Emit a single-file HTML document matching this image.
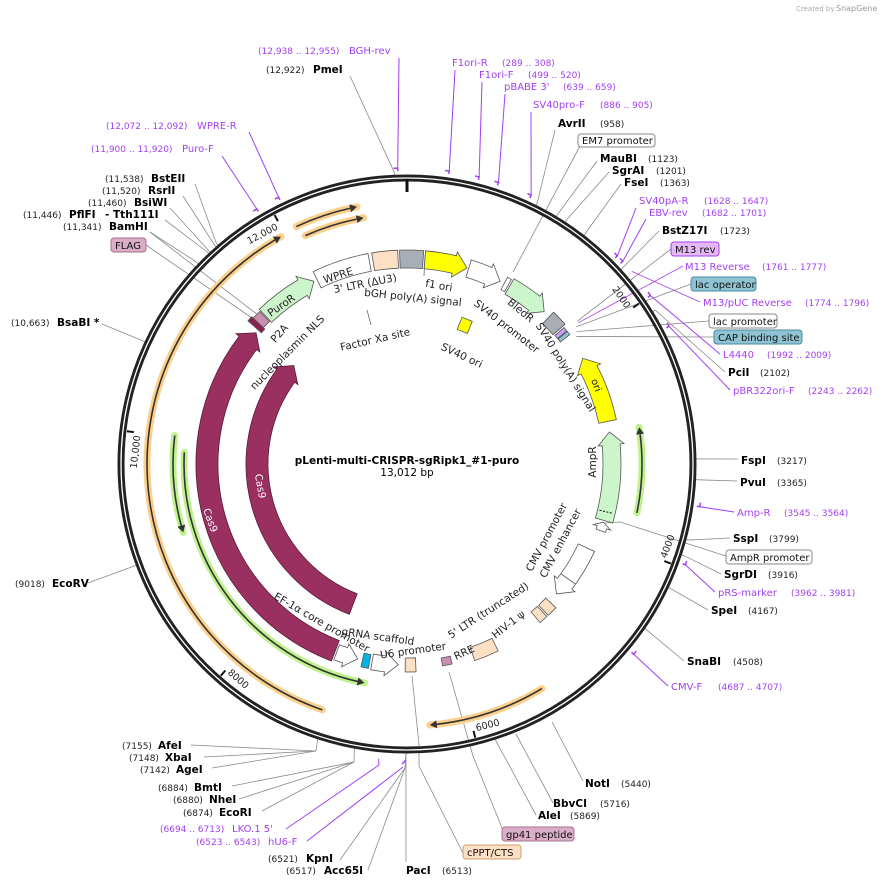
<!DOCTYPE html>
<html><head><meta charset="utf-8"><style>
html,body{margin:0;padding:0;background:#fff;}
svg{display:block;font-family:"DejaVu Sans","Liberation Sans",sans-serif;}
.e{font-weight:bold;font-size:10.5px;fill:#000}
.n{font-size:9px;fill:#222}
.p{font-size:10px;fill:#a23ff0}
.pn{font-size:9px;fill:#a23ff0}
.f{font-size:10.5px;fill:#222}
.bx{font-size:10px;fill:#111}
.t{font-size:9.5px;fill:#222}
</style></head><body>
<svg id="s" width="894" height="887" viewBox="0 0 894 887" xmlns="http://www.w3.org/2000/svg">
<rect width="894" height="887" fill="#fff"/>
<g id="shapes"></g>
<text x="796" y="11" font-size="7" fill="#aaa">Created by</text><text x="836" y="11" font-size="8" fill="#999">SnapGene</text>

<text x="407" y="464" text-anchor="middle" font-weight="bold" font-size="10.5" fill="#000">pLenti-multi-CRISPR-sgRipk1_#1-puro</text>
<text x="407" y="476" text-anchor="middle" font-size="10.5" fill="#000">13,012 bp</text>

<text class="t" x="404" y="196" text-anchor="end" transform="rotate(332 407 464)">12,000</text>
<text class="t" x="404" y="196" text-anchor="end" transform="rotate(55.3 407 464)">2000</text>
<text class="t" x="404" y="196" text-anchor="end" transform="rotate(276.7 407 464)">10,000</text>
<text class="t" x="410" y="740" text-anchor="start" transform="rotate(-69.3 407 464)">4000</text>
<text class="t" x="410" y="740" text-anchor="start" transform="rotate(-14 407 464)">6000</text>
<text class="t" x="410" y="740" text-anchor="start" transform="rotate(41.3 407 464)">8000</text>

<text class="pn" x="258" y="54">(12,938 .. 12,955)</text><text class="p" x="349" y="54">BGH-rev</text>
<text class="n" x="266" y="73">(12,922)</text><text class="e" x="313" y="73">PmeI</text>
<text class="p" x="452" y="66">F1ori-R</text><text class="pn" x="502" y="66">(289 .. 308)</text>
<text class="p" x="479" y="78">F1ori-F</text><text class="pn" x="528" y="78">(499 .. 520)</text>
<text class="p" x="504" y="90">pBABE 3'</text><text class="pn" x="563" y="90">(639 .. 659)</text>
<text class="p" x="533" y="108">SV40pro-F</text><text class="pn" x="600" y="108">(886 .. 905)</text>
<text class="e" x="558" y="127">AvrII</text><text class="n" x="600" y="127">(958)</text>
<rect x="578" y="134" width="77" height="13" rx="3" fill="#fff" stroke="#888"/><text class="bx" x="582" y="144">EM7 promoter</text>
<text class="e" x="600" y="162">MauBI</text><text class="n" x="648" y="162">(1123)</text>
<text class="e" x="612" y="174">SgrAI</text><text class="n" x="656" y="174">(1201)</text>
<text class="e" x="624" y="186">FseI</text><text class="n" x="660" y="186">(1363)</text>
<text class="p" x="639" y="204">SV40pA-R</text><text class="pn" x="704" y="204">(1628 .. 1647)</text>
<text class="p" x="649" y="216">EBV-rev</text><text class="pn" x="702" y="216">(1682 .. 1701)</text>
<text class="e" x="662" y="234">BstZ17I</text><text class="n" x="720" y="234">(1723)</text>
<rect x="671" y="242" width="48" height="14" rx="3" fill="#e4b8f5" stroke="#a23ff0"/><text class="bx" x="675" y="253">M13 rev</text>
<text class="p" x="685" y="270">M13 Reverse</text><text class="pn" x="762" y="270">(1761 .. 1777)</text>
<rect x="691" y="277" width="65" height="14" rx="3" fill="#8fc3d3" stroke="#4a8aa0"/><text class="bx" x="695" y="288">lac operator</text>
<text class="p" x="703" y="306">M13/pUC Reverse</text><text class="pn" x="805" y="306">(1774 .. 1796)</text>
<rect x="709" y="314" width="68" height="14" rx="3" fill="#fff" stroke="#888"/><text class="bx" x="713" y="325">lac promoter</text>
<rect x="714" y="330" width="88" height="14" rx="3" fill="#8fc3d3" stroke="#4a8aa0"/><text class="bx" x="718" y="341">CAP binding site</text>
<text class="p" x="723" y="358">L4440</text><text class="pn" x="767" y="358">(1992 .. 2009)</text>
<text class="e" x="728" y="376">PciI</text><text class="n" x="760" y="376">(2102)</text>
<text class="p" x="733" y="394">pBR322ori-F</text><text class="pn" x="808" y="394">(2243 .. 2262)</text>

<text class="e" x="741" y="464">FspI</text><text class="n" x="777" y="464">(3217)</text>
<text class="e" x="740" y="486">PvuI</text><text class="n" x="777" y="486">(3365)</text>
<text class="p" x="737" y="516">Amp-R</text><text class="pn" x="784" y="516">(3545 .. 3564)</text>
<text class="e" x="733" y="542">SspI</text><text class="n" x="769" y="542">(3799)</text>
<rect x="726" y="550" width="86" height="14" rx="3" fill="#fff" stroke="#888"/><text class="bx" x="730" y="561">AmpR promoter</text>
<text class="e" x="724" y="578">SgrDI</text><text class="n" x="768" y="578">(3916)</text>
<text class="p" x="718" y="596">pRS-marker</text><text class="pn" x="791" y="596">(3962 .. 3981)</text>
<text class="e" x="711" y="614">SpeI</text><text class="n" x="748" y="614">(4167)</text>
<text class="e" x="687" y="665">SnaBI</text><text class="n" x="733" y="665">(4508)</text>
<text class="p" x="671" y="690">CMV-F</text><text class="pn" x="718" y="690">(4687 .. 4707)</text>

<text class="e" x="585" y="787">NotI</text><text class="n" x="621" y="787">(5440)</text>
<text class="e" x="553" y="807">BbvCI</text><text class="n" x="600" y="807">(5716)</text>
<text class="e" x="538" y="819">AleI</text><text class="n" x="570" y="819">(5869)</text>
<rect x="502" y="827" width="72" height="14" rx="3" fill="#d9aec6" stroke="#a87090"/><text class="bx" x="506" y="838">gp41 peptide</text>
<rect x="463" y="845" width="58" height="14" rx="3" fill="#fde0c4" stroke="#c9a070"/><text class="bx" x="467" y="856">cPPT/CTS</text>
<text class="e" x="406" y="874">PacI</text><text class="n" x="442" y="874">(6513)</text>
<text class="n" x="286" y="874">(6517)</text><text class="e" x="324" y="874">Acc65I</text>
<text class="n" x="268" y="862">(6521)</text><text class="e" x="306" y="862">KpnI</text>
<text class="pn" x="196" y="845">(6523 .. 6543)</text><text class="p" x="268" y="845">hU6-F</text>
<text class="pn" x="160" y="832">(6694 .. 6713)</text><text class="p" x="232" y="832">LKO.1 5'</text>
<text class="n" x="183" y="816">(6874)</text><text class="e" x="219" y="816">EcoRI</text>
<text class="n" x="173" y="803">(6880)</text><text class="e" x="209" y="803">NheI</text>
<text class="n" x="158" y="791">(6884)</text><text class="e" x="194" y="791">BmtI</text>
<text class="n" x="140" y="773">(7142)</text><text class="e" x="176" y="773">AgeI</text>
<text class="n" x="129" y="761">(7148)</text><text class="e" x="165" y="761">XbaI</text>
<text class="n" x="122" y="749">(7155)</text><text class="e" x="158" y="749">AfeI</text>

<text class="pn" x="106" y="129">(12,072 .. 12,092)</text><text class="p" x="197" y="129">WPRE-R</text>
<text class="pn" x="91" y="152">(11,900 .. 11,920)</text><text class="p" x="182" y="152">Puro-F</text>
<text class="n" x="105" y="182">(11,538)</text><text class="e" x="151" y="182">BstEII</text>
<text class="n" x="102" y="194">(11,520)</text><text class="e" x="148" y="194">RsrII</text>
<text class="n" x="88" y="206">(11,460)</text><text class="e" x="134" y="206">BsiWI</text>
<text class="n" x="23" y="218">(11,446)</text><text class="e" x="69" y="218">PflFI</text><text class="e" x="105" y="218">- Tth111I</text>
<text class="n" x="63" y="230">(11,341)</text><text class="e" x="109" y="230">BamHI</text>
<rect x="111" y="238" width="35" height="14" rx="3" fill="#d9aec6" stroke="#a87090"/><text class="bx" x="115" y="249">FLAG</text>
<text class="n" x="11" y="326">(10,663)</text><text class="e" x="57" y="326">BsaBI *</text>
<text class="n" x="15" y="587">(9018)</text><text class="e" x="52" y="587">EcoRV</text>

<g class="f">
<text x="338" y="279" text-anchor="middle" transform="rotate(-18 338 275)">WPRE</text>
<text x="281" y="309" text-anchor="middle" transform="rotate(-35 281 305)">PuroR</text>
<text x="365" y="287" text-anchor="middle" transform="rotate(-11 365 283)">3' LTR (ΔU3)</text>
<text x="413" y="301" text-anchor="middle" transform="rotate(6 413 297)">bGH poly(A) signal</text>
<text x="439" y="289" text-anchor="middle" transform="rotate(10 439 285)">f1 ori</text>
<text x="507" y="330" text-anchor="middle" transform="rotate(38 507 326)">SV40 promoter</text>
<text x="521" y="314" text-anchor="middle" transform="rotate(40 521 310)">BleoR</text>
<text x="566" y="371" text-anchor="middle" transform="rotate(58 566 367)">SV40 poly(A) signal</text>
<text x="462" y="359" text-anchor="middle" transform="rotate(25 462 355)">SV40 ori</text>
<text x="375" y="343" text-anchor="middle" transform="rotate(-13 375 339)">Factor Xa site</text>
<text x="279" y="337" text-anchor="middle" transform="rotate(-48 279 333)">P2A</text>
<text x="287" y="356" text-anchor="middle" transform="rotate(-45 287 352)">nucleoplasmin NLS</text>
<text x="597" y="389" text-anchor="middle" transform="rotate(70 597 385)" font-size="10">ori</text>
<text x="592" y="466" text-anchor="middle" transform="rotate(-90 592 462)">AmpR</text>
<text x="546" y="541" text-anchor="middle" transform="rotate(-62 546 537)">CMV promoter</text>
<text x="560" y="547" text-anchor="middle" transform="rotate(-62 560 543)">CMV enhancer</text>
<text x="488" y="614" text-anchor="middle" transform="rotate(-33 488 610)">5' LTR (truncated)</text>
<text x="508" y="628" text-anchor="middle" transform="rotate(-38 508 624)">HIV-1 ψ</text>
<text x="464" y="656" text-anchor="middle" transform="rotate(-25 464 652)">RRE</text>
<text x="413" y="654" text-anchor="middle" transform="rotate(-8 413 650)">U6 promoter</text>
<text x="378" y="640" text-anchor="middle" transform="rotate(8 378 636)">gRNA scaffold</text>
<text x="322" y="626" text-anchor="middle" transform="rotate(30 322 622)">EF-1α core promoter</text>
<text x="211" y="524" text-anchor="middle" transform="rotate(70 211 520)" fill="#fff" font-size="10">Cas9</text>
<text x="261" y="490" text-anchor="middle" transform="rotate(80 261 486)" fill="#fff" font-size="10">Cas9</text>
</g>
</svg>
<script>
(function(){
var cx=407,cy=464,NS="http://www.w3.org/2000/svg",G=document.getElementById("shapes");
function P(r,a){a=a*Math.PI/180;return [cx+r*Math.sin(a),cy-r*Math.cos(a)];}
function f(p){return p[0].toFixed(2)+" "+p[1].toFixed(2);}
function A(r,a1,a2){var p=P(r,a2);return "A"+r+" "+r+" 0 "+(Math.abs(a2-a1)>180?1:0)+" "+(a2>a1?1:0)+" "+f(p);}
function el(tag,at){var e=document.createElementNS(NS,tag);for(var k in at)e.setAttribute(k,at[k]);G.appendChild(e);return e;}
function band(a1,a2,r,w,fill,stroke,dir){
 var ro=r+w/2,ri=r-w/2,d;
 var h=dir?Math.min(13/r*180/Math.PI,(a2-a1)*0.6):0;
 if(dir==1){var e=a2-h;d="M"+f(P(ro,a1))+A(ro,a1,e)+"L"+f(P(ro+4,e))+"L"+f(P(r,a2))+"L"+f(P(ri-4,e))+"L"+f(P(ri,e))+A(ri,e,a1)+"Z";}
 else if(dir==-1){var s=a1+h;d="M"+f(P(ro,a2))+A(ro,a2,s)+"L"+f(P(ro+4,s))+"L"+f(P(r,a1))+"L"+f(P(ri-4,s))+"L"+f(P(ri,s))+A(ri,s,a2)+"Z";}
 else d="M"+f(P(ro,a1))+A(ro,a1,a2)+"L"+f(P(ri,a2))+A(ri,a2,a1)+"Z";
 return el("path",{d:d,fill:fill,stroke:stroke||"#555","stroke-width":0.8});
}
function larc(r,from,to,glow){
 var d="M"+f(P(r,from))+A(r,from,to);
 el("path",{d:d,fill:"none",stroke:glow,"stroke-width":7,"stroke-linecap":"round"});
 var dir=to>from?1:-1,b=to-dir*7/r*180/Math.PI;
 el("path",{d:"M"+f(P(r,from))+A(r,from,b),fill:"none",stroke:"#333","stroke-width":1.6});
 el("path",{d:"M"+f(P(r+4,b))+"L"+f(P(r,to))+"L"+f(P(r-4,b))+"Z",fill:"#333"});
}
function line(pts,c,w){return el("polyline",{points:pts.map(f).join(" "),fill:"none",stroke:c,"stroke-width":w||0.8});}
var GR="#8a8a8a",PU="#a23ff0";
function enz(x,y,a){line([[x,y],P(292,a),P(289,a)],GR);}
function pri(x,y,a){var q=P(296,a);line([[x,y],q],PU,1);line([P(296,a-0.8),q,P(293,a)],PU,1.5);}
enz(350,76,357.5); pri(399,58,358.2);
pri(455,70,8.2); pri(482,82,14.1); pri(505,94,18.0); pri(531,112,24.8);
enz(555,130,26.5);
line([[580,146],[513,272]],GR);
enz(597,161,31.1); enz(609,172,33.2); enz(621,184,37.7);
pri(636,208,45.3); pri(646,219,46.8);
enz(659,231,47.7);
line([[671,249],P(222,50)],GR); line([[683,266],P(222,50.5)],PU);
line([[691,284],P(218,51)],GR); line([[700,302],P(296,49.4)],PU);
line([[709,321],P(215,52)],GR); line([[714,337],P(212,53)],GR);
pri(720,354,55.3); enz(725,372,58.2); pri(730,390,62.3);
enz(738,459,89); enz(737,481,93.1); pri(734,512,98.3); enz(730,538,105.1);
line([[726,556],[620,522],[605,523]],GR);
enz(721,574,108.3); pri(715,592,109.9); enz(708,610,115.3); enz(684,661,124.7); pri(668,686,130);
line([[583,781],[552,722]],GR);
line([[553,803],[516,734]],GR); line([[536,815],[496,741],P(289,162.4)],GR);
line([[504,833],[473,756],[449,672]],GR);
line([[464,855],[419,766],[419,745],[412,676]],GR);
line([[406,862],[406,750]],GR);
line([[368,870],[405,768],[406,752]],GR); line([[340,860],[405,768]],GR);
line([[307,841],[403,767]],PU,1); line([P(296,180.2),[402,764]],PU,1.5);
line([[286,829],[379,765],P(296,185.5)],PU,1);
line([[191,745],[316,751],P(289,198)],GR); line([[204,757],[316,751]],GR); line([[212,768],[316,751]],GR);
line([[232,786],[354,762],P(289,190.5)],GR); line([[239,799],[354,762]],GR); line([[262,811],[354,762]],GR);
pri(222,156,329.5); pri(249,132,334.3);
enz(195,184,319.2); enz(183,196,318.7); enz(170,208,317.1); enz(165,220,316.7); enz(150,232,313.8);
line([[146,245],[252,318]],GR); line([[150,232],[258,315]],GR);
enz(102,324,295); enz(88,583,249.5);
el("circle",{cx:cx,cy:cy,r:286,fill:"none",stroke:"#222","stroke-width":7});
el("circle",{cx:cx,cy:cy,r:286,fill:"none",stroke:"#fff","stroke-width":1.3});
el("line",{x1:407,y1:179,x2:407,y2:192,stroke:"#111","stroke-width":3});
[2000,4000,6000,8000,10000,12000].forEach(function(b){var a=b/13012*360;line([P(275,a),P(282,a)],"#111",2);});
larc(260,199,331,"#fbcf8c"); larc(262,335,349,"#fbcf8c"); larc(250,336,350,"#fbcf8c"); larc(262,149,175,"#fbcf8c");
larc(235,102,81,"#bff28e"); larc(223,273,191,"#bff28e"); larc(234,277,253,"#bff28e");
band(201,311,200,22,"#993060","#5a1a38",1);
band(201,311,150,22,"#993060","#5a1a38",1);
band(312,313.5,205,18,"#8a2050","#555",0); band(313.5,316,205,14,"#c98fb0","#555",0);
band(316.3,333,205,18,"#ccf5cc","#555",1);
band(334,349.5,205,18,"#fff","#555",0);
band(350.5,357.5,205,18,"#fde0c4","#555",0);
band(358,364.5,205,18,"#a9adb5","#555",0);
band(5,17,205,18,"#ffff00","#555",1);
band(17.5,27,205,18,"#fff","#555",1);
band(28.3,29.5,205,14,"#fff","#555",0);
band(30,42,205,18,"#ccf5cc","#555",1);
band(44,48.5,203,16,"#a9adb5","#555",0);
band(49,50.2,202,12,"#c9a0f5","#555",0); band(50.4,51.5,202,12,"#8fc3d3","#555",0);
band(59,78,205,18,"#ffff00","#555",-1);
band(81,106,205,18,"#ccf5cc","#555",-1);
var dl=line([P(198,103.5),P(212,103.5)],"#111",1); dl.setAttribute("stroke-dasharray","2 1.5");
band(106.5,109,205,10,"#fff","#555",-1);
band(115,131,198,18,"#fff","#555",1);
line([P(189,125.5),P(207,125.5)],"#555",0.8);
band(134,137,200,14,"#fde0c4","#555",0); band(137.5,140,200,14,"#fde0c4","#555",0);
band(154,161,201,14,"#fde0c4","#555",0);
band(167.3,170,201,8,"#c78fb0","#555",0);
band(177.5,180.5,201,14,"#fde0c4","#555",0);
band(182.5,190,201,16,"#fff","#555",-1);
band(190.7,192.8,201,14,"#00b4e6","#555",0);
band(194.2,200.5,201,16,"#fff","#555",-1);
el("rect",{x:459,y:319,width:11,height:13,fill:"#ffff00",stroke:"#555","stroke-width":0.8,transform:"rotate(22 465 326)"});
line([[367,310],[371,325]],"#666"); line([[425,255],[424,276]],"#666");
})();
</script>
</body></html>
